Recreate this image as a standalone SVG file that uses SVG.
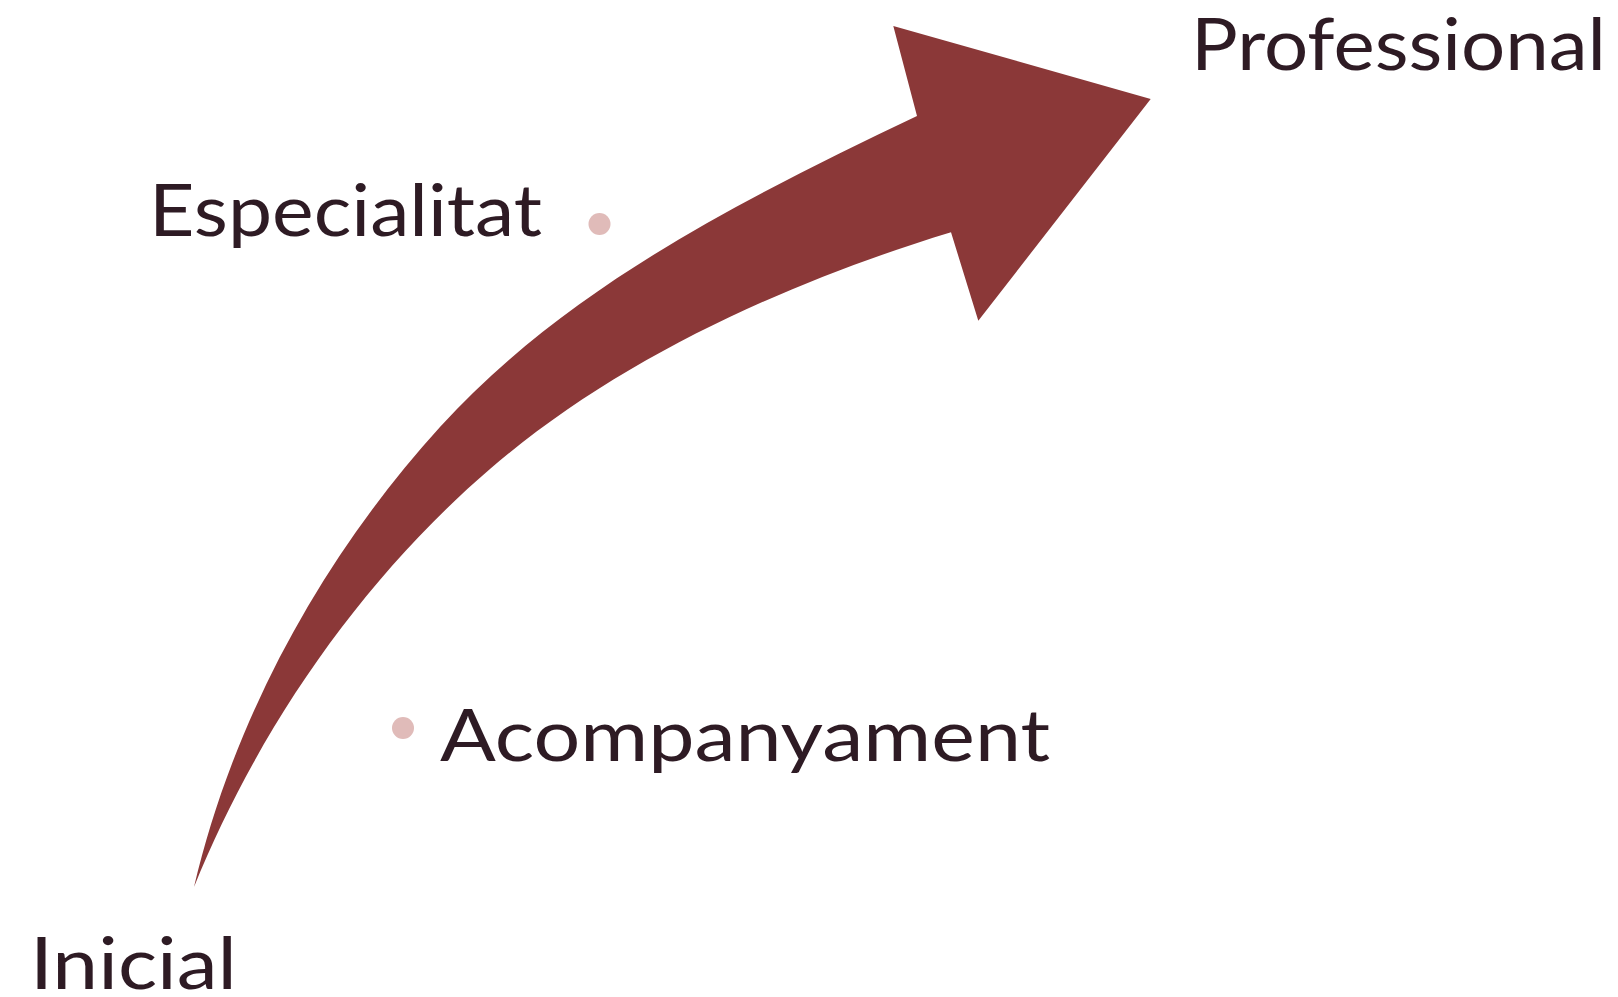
<svg xmlns="http://www.w3.org/2000/svg" width="1618" height="997" viewBox="0 0 1618 997">
<style>
.lbl{font-family:"Lato","Noto Sans","Liberation Sans",sans-serif;font-size:71px;fill:#2E1B24;}
.dot{fill:#E0BBB9;}
.arrow{fill:#8B3838;}
</style>
<rect width="1618" height="997" fill="#FFFFFF"/>
<g id="connectors">
<path class="arrow" d="M194,887 C233.7,717.5 323,555.8 440,427 C567.9,286.4 745.6,197.9 917,116 L893.3,26 L1150.7,99 L978.3,320.7 L951,232.3 C788.5,281.8 619,358 490,469 C361,580 258,729 194,887 Z"/>
</g>
<g id="node-professional">
<text class="lbl" x="1191" y="70" textLength="415" lengthAdjust="spacingAndGlyphs">Professional</text>
</g>
<g id="node-especialitat">
<text class="lbl" x="149" y="236" textLength="393" lengthAdjust="spacingAndGlyphs">Especialitat</text>
<circle class="dot" cx="599.5" cy="224" r="11"/>
</g>
<g id="node-acompanyament">
<circle class="dot" cx="403" cy="728" r="11"/>
<text class="lbl" x="440" y="761" textLength="610" lengthAdjust="spacingAndGlyphs">Acompanyament</text>
</g>
<g id="node-inicial">
<text class="lbl" x="30" y="989" textLength="207" lengthAdjust="spacingAndGlyphs">Inicial</text>
</g>
</svg>
